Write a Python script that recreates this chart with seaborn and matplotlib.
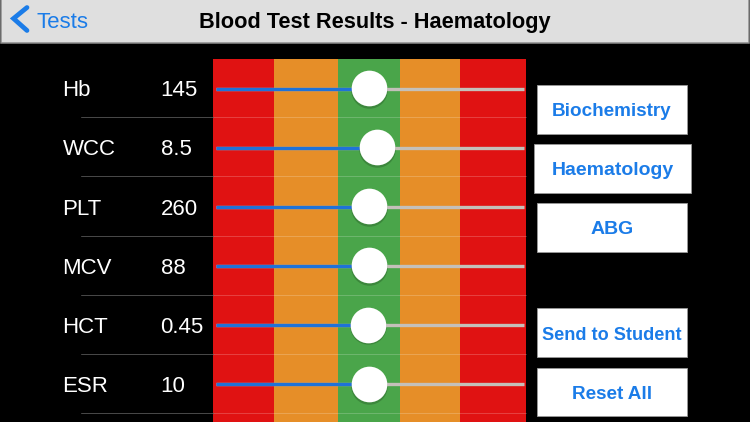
import matplotlib
matplotlib.use('Agg')
import matplotlib.pyplot as plt
import matplotlib.patches as patches
import seaborn as sns
import pandas as pd

# Slider rows
tests = ['Hb', 'WCC', 'PLT', 'MCV', 'HCT', 'ESR']
results = ['145', '8.5', '260', '88', '0.45', '10']
slider_pos = [0.497, 0.523, 0.497, 0.497, 0.494, 0.497]

# Colour bands along the slider scale
band_widths = [0.199, 0.208, 0.201, 0.194, 0.214]
band_colors = ['#e01212', '#e68e28', '#4aa54a', '#e68e28', '#e01212']

# Buttons on the right
button_labels = ['Biochemistry', 'Haematology', 'ABG', 'Send to Student', 'Reset All']

BLUE = '#1b7ce8'
LIBERATION = 'Liberation Sans'

sns.set_theme(style='white', rc={'axes.facecolor': 'black', 'figure.facecolor': 'black'})
plt.rcParams['font.family'] = [LIBERATION, 'DejaVu Sans']

fig = plt.figure(figsize=(7.5, 4.22), dpi=100)

# Background axes in screen pixels, for the nav bar and the buttons
bg = fig.add_axes([0, 0, 1, 1])
bg.set_xlim(0, 750)
bg.set_ylim(422, 0)
bg.axis('off')

bg.add_patch(patches.Rectangle((1, -5), 748, 47.5, facecolor='#dfdfdf', edgecolor='#8c8c8c', linewidth=1.1))
bg.plot([27, 13.5, 27], [7.5, 18.5, 30.5], color=BLUE, linewidth=3.4, solid_capstyle='round', solid_joinstyle='miter')
bg.text(36.5, 28, 'Tests', color=BLUE, fontsize=16, va='baseline')
bg.text(375, 28, 'Blood Test Results - Haematology', color='black', fontsize=15.7, fontweight='bold', ha='center', va='baseline')

button_boxes = [(537, 84.5, 150, 49), (534, 144, 157, 48.5), (537, 203, 150, 48.5), (537, 308, 150, 49), (537, 368, 150, 48)]
button_sizes = [13.6, 14, 14, 13.1, 13.6]
for label, (x, y, w, h), size in zip(button_labels, button_boxes, button_sizes):
    bg.add_patch(patches.Rectangle((x, y), w, h, facecolor='white', edgecolor='#9a9a9a', linewidth=0.6))
    bg.text(x + w / 2, y + h / 2 + 7, label, color=BLUE, fontsize=size, fontweight='bold', ha='center', va='baseline')

# Slider axes: 0 and 1 are the ends of each track
ax = fig.add_axes([213 / 750, 0, 313 / 750, (422 - 58.5) / 422])
ax.set_xlim(-3 / 308, 310 / 308)
ax.set_ylim(5.634, -0.507)
ax.axis('off')

left = -3 / 308
for width, color in zip(band_widths, band_colors):
    ax.barh(2.5, width, height=7, left=left, color=color, linewidth=0, zorder=1)
    left += width

rows = list(range(len(tests)))
df = pd.DataFrame({'test': tests, 'row': rows, 'pos': slider_pos})

both = matplotlib.transforms.blended_transform_factory(bg.transData, ax.transData)
for i, (name, value) in enumerate(zip(tests, results)):
    ax.annotate(name, xy=(62.5, i), xycoords=(bg.transData, ax.transData), xytext=(0, -5.6),
                textcoords='offset points', color='white', fontsize=16, va='baseline', annotation_clip=False)
    ax.annotate(value, xy=(160.5, i), xycoords=(bg.transData, ax.transData), xytext=(0, -5.6),
                textcoords='offset points', color='white', fontsize=16, va='baseline', annotation_clip=False)
    # separator under each row, faint over the bands
    ax.plot([81, 213], [i + 0.485, i + 0.485], transform=both, color='#4a4a4a', linewidth=0.7, clip_on=False, zorder=2)
    ax.plot([213, 526], [i + 0.485, i + 0.485], transform=both, color='white', alpha=0.2, linewidth=0.7, clip_on=False, zorder=2)

# Tracks: blue up to the knob, grey after it
ax.hlines(rows, 0, 1, color='#c4c0ba', linewidth=2.4, zorder=3)
ax.hlines(rows, 0, slider_pos, color='#1f72d8', linewidth=2.4, zorder=4)

# Knob shadow then knob, knobs sit a touch above the track
shadow = df.assign(row=df['row'] + 0.02)
knobs = df.assign(row=df['row'] - 0.012)
sns.scatterplot(data=shadow, x='pos', y='row', ax=ax, s=690, color='black', alpha=0.18, linewidth=0, legend=False, zorder=5, clip_on=False)
sns.scatterplot(data=knobs, x='pos', y='row', ax=ax, s=660, color='white', linewidth=0, legend=False, zorder=6, clip_on=False)
ax.set_xlabel('')
ax.set_ylabel('')

fig.savefig('out.png', dpi=100, facecolor='black')
